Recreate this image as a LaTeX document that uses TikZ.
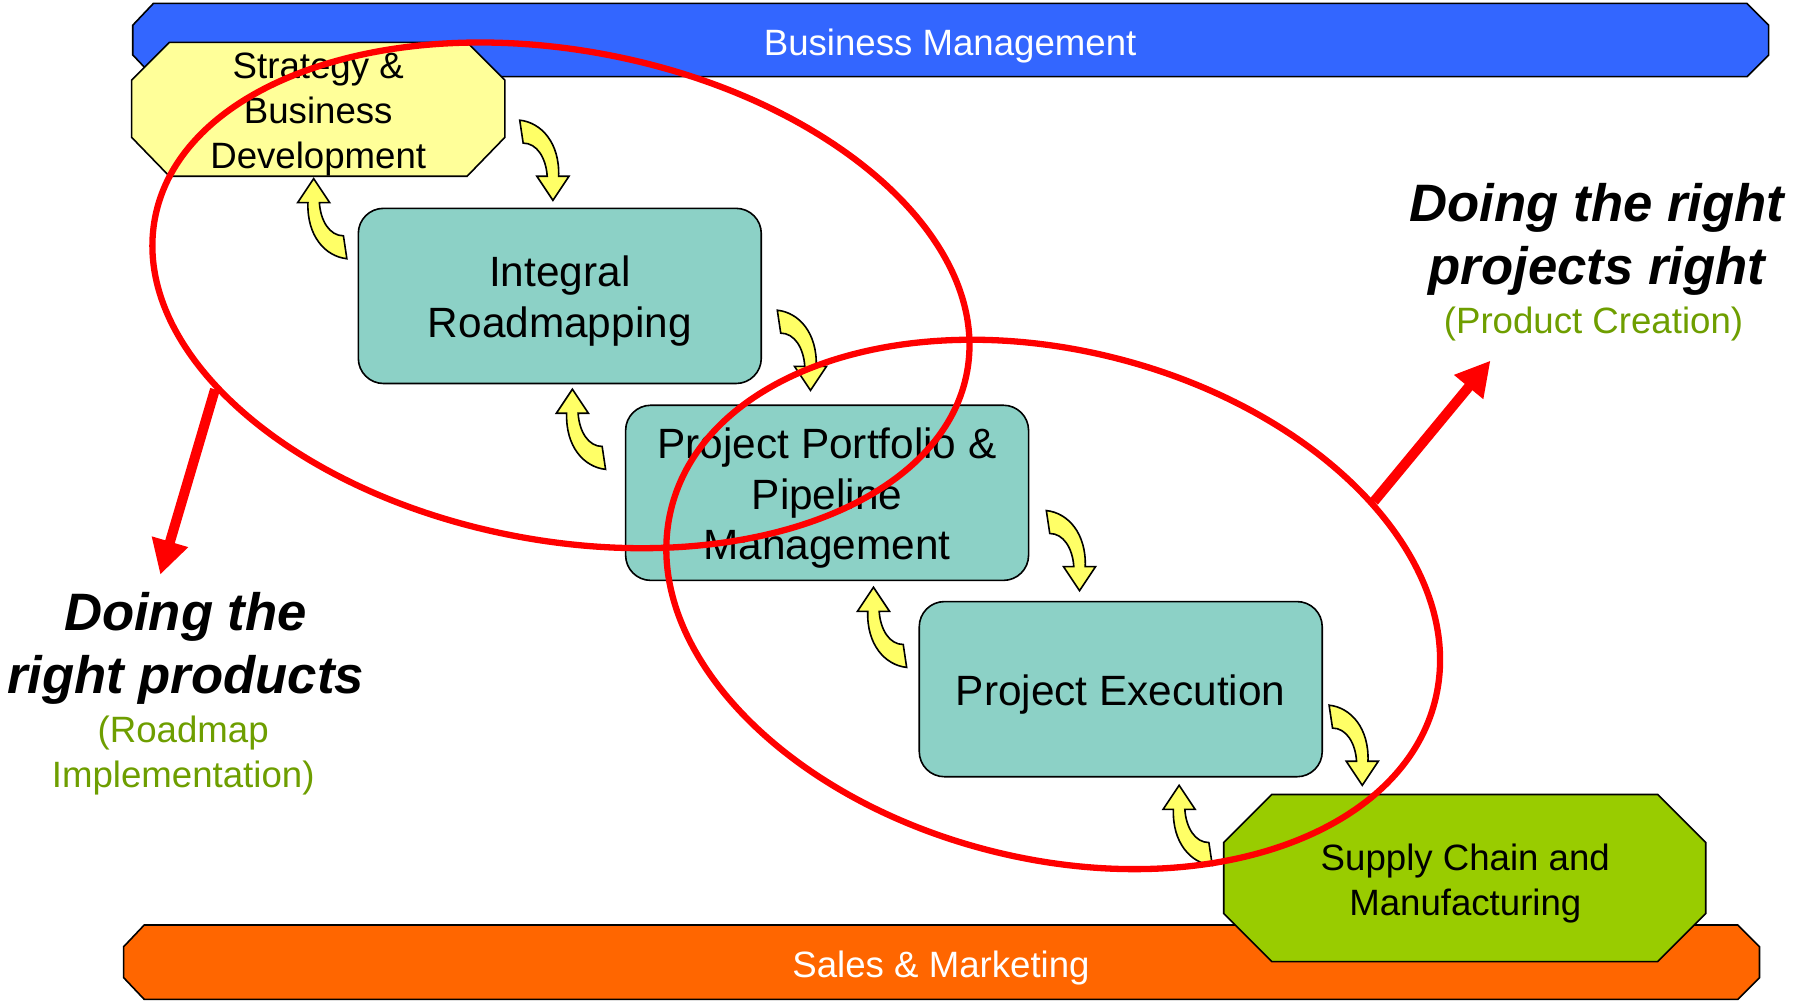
\documentclass[tikz,border=0pt]{standalone}
\usepackage{fontspec}
\setmainfont{Liberation Sans}
\usepackage{tikz}
\usetikzlibrary{shapes.geometric, arrows.meta}

\definecolor{bmblue}{HTML}{3366FF}
\definecolor{smorange}{HTML}{FF6600}
\definecolor{sbyellow}{HTML}{FFFF99}
\definecolor{scgreen}{HTML}{99CC00}
\definecolor{boxteal}{HTML}{8CD1C6}
\definecolor{bendyellow}{HTML}{FFFF66}
\definecolor{leafgreen}{HTML}{6E9E00}

% taller first line, so the box text sits a little lower
\newcommand{\boxlift}{\rule{0pt}{36pt}}

\tikzset{
	outline/.style={draw=black, line width=1.4pt},
	procbox/.style={outline, fill=boxteal, rounded corners=22pt, minimum width=352pt, minimum height=153pt, align=center, font=\fontsize{37}{44.5}\selectfont},
	bartext/.style={text=white, font=\fontsize{32}{38}\selectfont},
	blocktext/.style={align=center, font=\fontsize{32}{39}\selectfont},
	redring/.style={draw=red, line width=5.5pt, ellipse, inner sep=0pt},
	bigarrow/.style={red, line width=8.7pt, -{Triangle[length=30pt, width=31pt]}},
	slogan/.style={align=center, font=\bfseries\itshape\fontsize{46}{55}\selectfont},
	subslogan/.style={align=center, text=leafgreen, font=\fontsize{32}{39}\selectfont},
	bendarrow/.pic={
		\draw[outline, fill=bendyellow] (-29,-70) .. controls (-10,-68) and (6,-50) .. (5,-21) -- (14,-21) -- (0,0) -- (-14,-21) -- (-5,-21) .. controls (-6,-37) and (-14,-50) .. (-26,-50) -- cycle;
	}
}

\begin{document}
\begin{tikzpicture}[x=1pt, y=-1pt]
		\useasboundingbox (0,0) rectangle (1568,874);

		% the two bars
		\draw[outline, fill=bmblue] (134,3) -- (1526,3) -- (1545,22) -- (1545,48) -- (1526,67) -- (134,67) -- (116,48) -- (116,22) -- cycle;
		\node[bartext] (bm) at (830,40) {Business Management};
		\draw[outline, fill=smorange] (126,808) -- (1518,808) -- (1537,827) -- (1537,854) -- (1518,873) -- (126,873) -- (108,854) -- (108,827) -- cycle;
		\node[bartext] (sm) at (822,846) {Sales \& Marketing};

		% octagons
		\draw[outline, fill=sbyellow] (148,37) -- (408,37) -- (441,70) -- (441,120) -- (408,154) -- (148,154) -- (115,120) -- (115,70) -- cycle;
		\node[blocktext] (strat) at (278,100) {Strategy \&\\Business\\Development};
		\draw[outline, fill=scgreen] (1111,694) -- (1448,694) -- (1490,736) -- (1490,798) -- (1448,840) -- (1111,840) -- (1069,798) -- (1069,736) -- cycle;
		\node[blocktext] (supply) at (1280,772) {Supply Chain and\\Manufacturing};

		\node[procbox] (road) at (489,258.5) {\boxlift Integral\\Roadmapping};
		\node[procbox] (port) at (722.5,430.5) {\boxlift Project Portfolio \&\\Pipeline\\Management};
		\node[procbox] (exec) at (979,602) {\boxlift Project Execution};

		% yellow bends, down on the right, up on the left
		\foreach \x/\y in {483/175, 708/341, 943/516, 1190/686}
			\pic at (\x,\y) {bendarrow};
		\foreach \x/\y in {274/156, 500/340, 763/513, 1030/686}
			\pic[rotate=180] at (\x,\y) {bendarrow};

		\node[redring, minimum width=722pt, minimum height=428pt, rotate=-10.8] (prodloop) at (490,258) {};
		\node[redring, minimum width=688pt, minimum height=444pt, rotate=-14.2] (projloop) at (920,528) {};

		\coordinate (prodtip) at (140,502);
		\coordinate (projtip) at (1302,315);
		\draw[bigarrow] (prodloop.206) -- (prodtip);
		\draw[bigarrow] (projloop.32) -- (projtip);

		\node[slogan] (prodtext) at (162,566) {Doing the\\right products};
		\node[subslogan] (prodsub) at (160,660) {(Roadmap\\Implementation)};
		\node[slogan] (projtext) at (1395,209) {Doing the right\\projects right};
		\node[subslogan] (projsub) at (1392,283) {(Product Creation)};
\end{tikzpicture}
\end{document}
